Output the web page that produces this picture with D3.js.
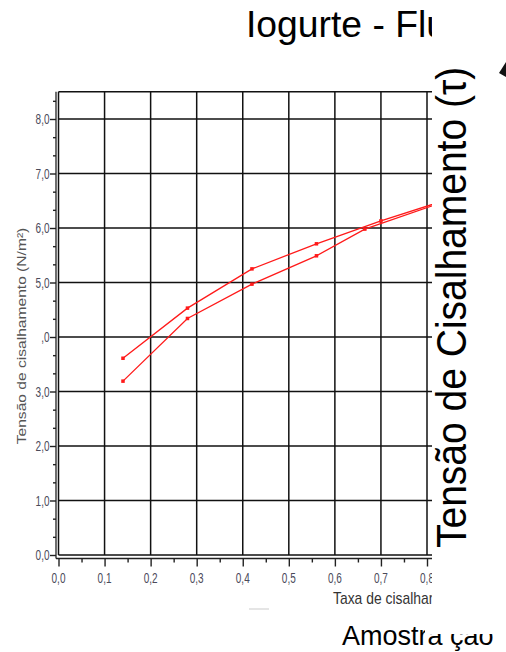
<!DOCTYPE html>
<html><head><meta charset="utf-8">
<script src="https://cdn.jsdelivr.net/npm/d3@7"></script>
<style>html,body{margin:0;padding:0;background:#fff;}svg{display:block;}</style>
</head><body>
<svg id="c" width="506" height="652"></svg>
<script>
// ---- data ----
const shearRateUp = [0.14, 0.28, 0.42, 0.56, 0.70, 0.84];
const stressUp = [3.61, 4.53, 5.25, 5.71, 6.13, 6.51];
const shearRateDown = [0.14, 0.28, 0.42, 0.56, 0.665, 0.84];
const stressDown = [3.19, 4.34, 4.97, 5.49, 5.98, 6.49];
const xTickValues = [0, 0.1, 0.2, 0.3, 0.4, 0.5, 0.6, 0.7, 0.8];
const xTickLabels = ["0,0","0,1","0,2","0,3","0,4","0,5","0,6","0,7","0,8"];
const yTickValues = [0, 1, 2, 3, 4, 5, 6, 7, 8];
const yTickLabels = ["0,0","1,0","2,0","3,0",",0","5,0","6,0","7,0","8,0"];
const titleText = "Iogurte - Fluxo";
const rightLabel = "Tensão de Cisalhamento (τ)";
const bottomLabel = "Amostra ção";
const xAxisTitle = "Taxa de cisalhamento (1/s)";
const yAxisTitle = "Tensão de cisalhamento (N/m²)";

const svg = d3.select("#c");
const x = d3.scaleLinear().domain([0, 0.8]).range([58.5, 427]);
const y = d3.scaleLinear().domain([0, 8]).range([555, 119]);
const yTop = y(8.5);
const clipRight = 432;

svg.append("defs").append("clipPath").attr("id","chartClip")
  .append("rect").attr("x",0).attr("y",0).attr("width",clipRight).attr("height",652);

const g = svg.append("g").attr("clip-path","url(#chartClip)");

// grid
const gridX = d3.range(0, 0.95, 0.1);
g.selectAll("line.vg").data(gridX).enter().append("line")
  .attr("x1", d=>x(d)).attr("x2", d=>x(d)).attr("y1", yTop).attr("y2", y(0))
  .attr("stroke","#111").attr("stroke-width",1.5);
g.selectAll("line.hg").data(d3.range(0, 8.6, 1).concat([8.5])).enter().append("line")
  .attr("x1", x(0)).attr("x2", 520).attr("y1", d=>y(d)).attr("y2", d=>y(d))
  .attr("stroke","#111").attr("stroke-width",1.5);

// axes
const xAxis = d3.axisBottom(x).tickValues(xTickValues).tickSize(8).tickFormat((d,i)=>"");
const xMinor = d3.axisBottom(x).tickValues(d3.range(0.05, 0.9, 0.1)).tickSize(4).tickFormat("");
const xa = g.append("g").attr("transform","translate(0,558.5)");
xa.append("line").attr("x1",56).attr("x2",520).attr("y1",0).attr("y2",0).attr("stroke","#222").attr("stroke-width",1.3);
xa.append("g").call(xAxis).call(s=>s.select(".domain").remove()).selectAll("line").attr("stroke","#222").attr("stroke-width",1.4);
xa.append("g").call(xMinor).call(s=>s.select(".domain").remove()).selectAll("line").attr("stroke","#222").attr("stroke-width",1.4);

const yAxis = d3.axisLeft(y).tickValues(yTickValues).tickSize(6).tickFormat("");
const yMinor = d3.axisLeft(y).tickValues(d3.range(0, 8.6, 1/3).filter(v=>Math.abs(v-Math.round(v))>0.01)).tickSize(3).tickFormat("");
const ya = g.append("g").attr("transform","translate(56,0)");
ya.append("line").attr("x1",0).attr("x2",0).attr("y1",yTop).attr("y2",558.5).attr("stroke","#222").attr("stroke-width",1.3);
ya.append("g").call(yAxis).call(s=>s.select(".domain").remove()).selectAll("line").attr("stroke","#222").attr("stroke-width",1.4);
ya.append("g").call(yMinor).call(s=>s.select(".domain").remove()).selectAll("line").attr("stroke","#222").attr("stroke-width",1.4);

// tick labels
const tickFont = "'Liberation Sans', Arial, sans-serif";
g.selectAll("text.xt").data(xTickValues).enter().append("text")
  .attr("transform", d=>`translate(${x(d)},583) scale(1,1.4)`)
  .attr("text-anchor","middle").attr("font-family",tickFont).attr("font-size",10)
  .attr("fill","#4a4a5a").text((d,i)=>xTickLabels[i]);
g.selectAll("text.yt").data(yTickValues).enter().append("text")
  .attr("transform", d=>`translate(49.5,${y(d)+5}) scale(1,1.4)`)
  .attr("text-anchor","end").attr("font-family",tickFont).attr("font-size",10)
  .attr("fill","#4a4a5a").text((d,i)=>yTickLabels[i]);

// axis titles
g.append("text").attr("transform","translate(333,604) scale(1,1.18)")
  .attr("font-family",tickFont).attr("font-size",13.9).attr("fill","#333").text(xAxisTitle);
g.append("text").attr("transform","translate(25.5,336) rotate(-90) scale(1.2,1)")
  .attr("text-anchor","middle").attr("font-family",tickFont).attr("font-size",13).attr("fill","#555").text(yAxisTitle);

// series
const line = d3.line().x(d=>x(d[0])).y(d=>y(d[1]));
const up = shearRateUp.map((v,i)=>[v, stressUp[i]]);
const down = shearRateDown.map((v,i)=>[v, stressDown[i]]);
[up, down].forEach(s=>{
  g.append("path").datum(s).attr("d", line).attr("fill","none").attr("stroke","#ff1a1a").attr("stroke-width",1.3);
  g.selectAll(null).data(s).enter().append("rect")
    .attr("x", d=>x(d[0])-1.75).attr("y", d=>y(d[1])-1.75).attr("width",3.5).attr("height",3.5).attr("fill","#ff1a1a");
});

// faint stray line
svg.append("line").attr("x1",249).attr("x2",269).attr("y1",609).attr("y2",609).attr("stroke","#ddd").attr("stroke-width",1.5);

// title
svg.append("text").attr("x",246).attr("y",37).attr("font-family","'Liberation Sans', Arial, sans-serif")
  .attr("font-size",37.3).attr("fill","#000").text(titleText);
// bottom label
svg.append("text").attr("x",342).attr("y",645).attr("font-family","'Liberation Sans', Arial, sans-serif")
  .attr("font-size",27).attr("fill","#000").text(bottomLabel);

// white cover
svg.append("rect").attr("x",clipRight).attr("y",0).attr("width",506-clipRight).attr("height",634).attr("fill","#fff");
svg.append("rect").attr("x",425).attr("y",607).attr("width",90).attr("height",27).attr("fill","#fff");

// right rotated label
svg.append("text").attr("transform","translate(466,548) rotate(-90) scale(1,1.1)")
  .attr("font-family","'Liberation Sans', Arial, sans-serif").attr("font-size",39).attr("fill","#000").text(rightLabel);

// small mark at top right
svg.append("path").attr("d","M506,62 L499,73 L506,77 Z").attr("fill","#111");
</script>
</body></html>
